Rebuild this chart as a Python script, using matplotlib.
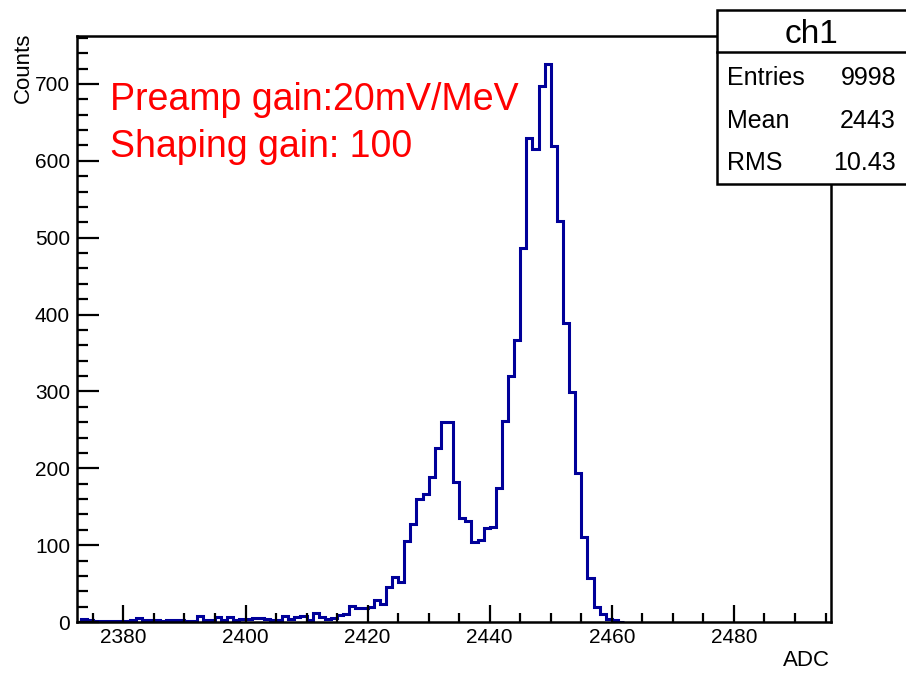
import numpy as np
import matplotlib.pyplot as plt
from matplotlib.patches import Rectangle
from matplotlib.lines import Line2D
from matplotlib.ticker import MultipleLocator

plt.rcParams['font.family'] = ['Liberation Sans', 'DejaVu Sans']

# ADC spectrum, one count value per 1-ADC bin starting at first_bin
first_bin = 2372
counts = [
    0, 4, 3, 1, 1, 1, 1, 1, 1, 2,            # 2372-2381
    5, 3, 3, 2, 1, 2, 2, 2, 1, 1,            # 2382-2391
    8, 2, 3, 6, 2, 6, 2, 4, 4, 5,            # 2392-2401
    5, 4, 2, 3, 8, 4, 6, 8, 2, 12,           # 2402-2411
    6, 4, 5, 9, 11, 21, 18, 18, 20, 28,      # 2412-2421
    23, 45, 59, 52, 106, 127, 160, 166, 189, 226,   # 2422-2431
    260, 260, 182, 135, 132, 104, 107, 122, 124, 174,  # 2432-2441
    261, 320, 367, 486, 630, 615, 697, 726, 619, 522,  # 2442-2451
    389, 299, 194, 110, 57, 20, 11, 4, 2, 0,         # 2452-2461
]
x_range = (2372.4, 2495.9)

hist_title = "ch1"
stat_names = ["Entries", "Mean", "RMS"]
stat_values = ["9998", "2443", "10.43"]
notes = ["Preamp gain:20mV/MeV", "Shaping gain: 100"]

W, H = 906, 673
fig = plt.figure(figsize=(W / 100, H / 100), dpi=100)

def fx(px):
    return px / W

def fy(py):
    return 1 - py / H

ax = fig.add_axes([fx(77), fy(622), fx(831) - fx(77), fy(36) - fy(622)])

edges = np.arange(first_bin, first_bin + len(counts) + 1)
ax.stairs(counts, edges, color='#000099', lw=2.2, baseline=None)

ax.set_xlim(*x_range)
ax.set_ylim(0, max(counts) * 1.05)

for s in ax.spines.values():
    s.set_linewidth(1.8)

ax.xaxis.set_major_locator(MultipleLocator(20))
ax.xaxis.set_minor_locator(MultipleLocator(5))
ax.yaxis.set_major_locator(MultipleLocator(100))
ax.yaxis.set_minor_locator(MultipleLocator(20))
ax.tick_params(axis='x', which='major', direction='in', length=12.5, width=1.6,
               labelsize=15, pad=4)
ax.tick_params(axis='x', which='minor', direction='in', length=6.3, width=1.6)
ax.tick_params(axis='y', which='major', direction='in', length=16, width=1.6,
               labelsize=15, pad=5)
ax.tick_params(axis='y', which='minor', direction='in', length=8, width=1.6)

fig.text(fx(23), fy(33), "Counts", rotation=90, ha='center', va='top', fontsize=16)
fig.text(fx(830), fy(661), "ADC", ha='right', va='center', fontsize=16)

# annotation in red
fig.text(fx(110), fy(110), notes[0], color='red', fontsize=27, va='baseline')
fig.text(fx(110), fy(157), notes[1], color='red', fontsize=27, va='baseline')

# statistics box in the top right corner
box = Rectangle((fx(717), fy(184)), fx(907) - fx(717), fy(10) - fy(184),
                transform=fig.transFigure, facecolor='white', edgecolor='black',
                lw=1.8, zorder=5)
fig.add_artist(box)
fig.add_artist(Line2D([fx(717), fx(907)], [fy(52), fy(52)], color='black',
                      lw=1.8, transform=fig.transFigure, zorder=6))
fig.text(fx(812), fy(43), hist_title, ha='center', va='baseline', fontsize=24, zorder=7)
for i, (name, val) in enumerate(zip(stat_names, stat_values)):
    yb = 85 + i * 42.5
    fig.text(fx(727), fy(yb), name, ha='left', va='baseline', fontsize=18, zorder=7)
    fig.text(fx(896), fy(yb), val, ha='right', va='baseline', fontsize=18, zorder=7)

fig.savefig('out.png', dpi=100)
